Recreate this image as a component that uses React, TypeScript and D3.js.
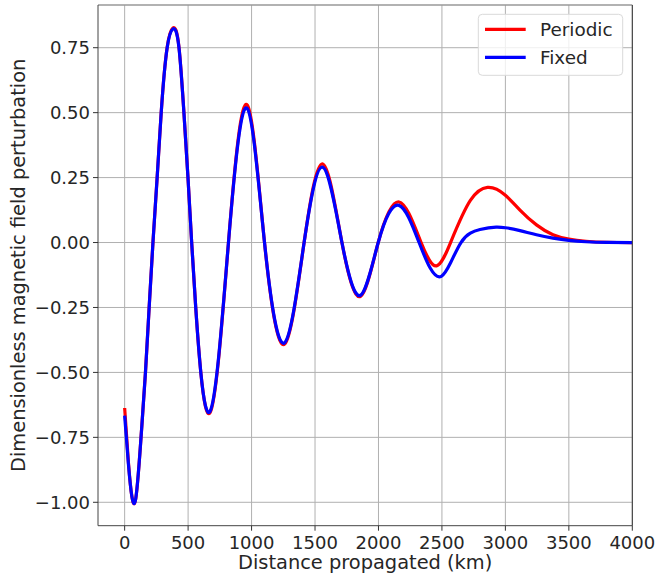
import React from "react";
import * as d3 from "d3";

const distanceFixed = [0, 30, 84, 129, 164, 193, 223, 256, 288, 335, 380, 428, 467, 499, 528, 560, 600, 673, 818, 968, 1102, 1262, 1414, 1558, 1712, 1859, 1998, 2162, 2320, 2495, 2568, 2650, 2724, 2800, 2927, 3000, 3115, 3245, 3375, 3500, 3635, 3800, 4000];
const fixedValues = [-0.666, -0.855, -0.995, -0.75, -0.5, -0.25, 0, 0.25, 0.5, 0.75, 0.822, 0.75, 0.5, 0.25, 0, -0.25, -0.5, -0.65, 0, 0.515, 0, -0.385, 0, 0.29, 0, -0.203, 0, 0.143, 0, -0.13, -0.078, 0, 0.036, 0.05, 0.059, 0.057, 0.046, 0.03, 0.017, 0.008, 0.003, 0.0005, 0];

const distancePeriodic = [0, 30, 84, 129, 164, 193, 223, 256, 288, 335, 380, 428, 467, 499, 528, 560, 600, 673, 818, 968, 1102, 1262, 1414, 1558, 1712, 1859, 1998, 2162, 2336, 2458, 2568, 2724, 2859, 3000, 3115, 3245, 3375, 3500, 3635, 3800, 4000];
const periodicValues = [-0.637, -0.848, -0.995, -0.75, -0.5, -0.25, 0, 0.25, 0.5, 0.752, 0.826, 0.752, 0.5, 0.25, 0, -0.25, -0.5, -0.655, 0, 0.528, 0, -0.39, 0, 0.303, 0, -0.207, 0, 0.156, 0, -0.09, 0, 0.162, 0.212, 0.182, 0.125, 0.068, 0.03, 0.013, 0.005, 0.001, 0];

const xTicks = [0, 500, 1000, 1500, 2000, 2500, 3000, 3500, 4000];
const yTicks = [-1.0, -0.75, -0.5, -0.25, 0, 0.25, 0.5, 0.75];
const seriesNames = ["Periodic", "Fixed"];
const seriesColors = ["#ff0000", "#0000ff"];

const W = 657;
const H = 574;
const L = 98, R = 632.3, T = 5, B = 525.7;
const FONT = "DejaVu Sans, sans-serif";

// natural cubic spline y(x) through pixel points, emitted as Bezier segments
function splinePath(pts: [number, number][]): string {
  const n = pts.length - 1;
  const h: number[] = [];
  for (let i = 0; i < n; i++) h.push(pts[i + 1][0] - pts[i][0]);
  const a: number[] = new Array(n + 1).fill(0);
  const b: number[] = new Array(n + 1).fill(1);
  const c: number[] = new Array(n + 1).fill(0);
  const r: number[] = new Array(n + 1).fill(0);
  for (let i = 1; i < n; i++) {
    a[i] = h[i - 1];
    b[i] = 2 * (h[i - 1] + h[i]);
    c[i] = h[i];
    r[i] = 6 * ((pts[i + 1][1] - pts[i][1]) / h[i] - (pts[i][1] - pts[i - 1][1]) / h[i - 1]);
  }
  const cp = new Array(n + 1).fill(0);
  const rp = new Array(n + 1).fill(0);
  cp[0] = c[0] / b[0];
  rp[0] = r[0] / b[0];
  for (let i = 1; i <= n; i++) {
    const m = b[i] - a[i] * cp[i - 1];
    cp[i] = c[i] / m;
    rp[i] = (r[i] - a[i] * rp[i - 1]) / m;
  }
  const M = new Array(n + 1).fill(0);
  M[n] = rp[n];
  for (let i = n - 1; i >= 0; i--) M[i] = rp[i] - cp[i] * M[i + 1];
  const slope = (i: number) => {
    if (i < n) return (pts[i + 1][1] - pts[i][1]) / h[i] - (h[i] * (2 * M[i] + M[i + 1])) / 6;
    return (pts[n][1] - pts[n - 1][1]) / h[n - 1] + (h[n - 1] * (M[n - 1] + 2 * M[n])) / 6;
  };
  const path = d3.path();
  path.moveTo(pts[0][0], pts[0][1]);
  for (let i = 0; i < n; i++) {
    const m0 = slope(i);
    const m1 = slope(i + 1);
    const hh = h[i];
    path.bezierCurveTo(
      pts[i][0] + hh / 3,
      pts[i][1] + (m0 * hh) / 3,
      pts[i + 1][0] - hh / 3,
      pts[i + 1][1] - (m1 * hh) / 3,
      pts[i + 1][0],
      pts[i + 1][1]
    );
  }
  return path.toString();
}

export default function App() {
  const x = d3.scaleLinear().domain([-210, 4000]).range([L, R]);
  const y = d3.scaleLinear().domain([-1.0901, 0.9144]).range([B, T]);
  const periodic: [number, number][] = distancePeriodic.map((d, i) => [x(d), y(periodicValues[i])]);
  const fixed: [number, number][] = distanceFixed.map((d, i) => [x(d), y(fixedValues[i])]);
  const fmtY = (v: number) => (v < 0 ? "\u2212" : "") + Math.abs(v).toFixed(2);

  return (
    <svg width={W} height={H} style={{ position: "absolute", left: 0, top: 0, background: "#fff" }} fontFamily={FONT}>
      <rect x={0} y={0} width={W} height={H} fill="#fff" />
      <defs>
        <clipPath id="plotclip">
          <rect x={L} y={T} width={R - L} height={B - T} />
        </clipPath>
      </defs>
      {xTicks.map((t) => (
        <line key={"gx" + t} x1={x(t)} x2={x(t)} y1={T} y2={B} stroke="#b0b0b0" strokeWidth={1} />
      ))}
      {yTicks.map((t) => (
        <line key={"gy" + t} x1={L} x2={R} y1={y(t)} y2={y(t)} stroke="#b0b0b0" strokeWidth={1} />
      ))}
      <g clipPath="url(#plotclip)">
        <path d={splinePath(periodic)} fill="none" stroke={seriesColors[0]} strokeWidth={3.2} />
        <path d={splinePath(fixed)} fill="none" stroke={seriesColors[1]} strokeWidth={3.2} />
      </g>
      <line x1={L} x2={R} y1={T} y2={T} stroke="#999" strokeWidth={1.5} />
      <line x1={R} x2={R} y1={T} y2={B} stroke="#333" strokeWidth={1} />
      <line x1={L} x2={L} y1={T} y2={B} stroke="#444" strokeWidth={1} />
      <line x1={L} x2={R} y1={B} y2={B} stroke="#444" strokeWidth={1} />
      {xTicks.map((t) => (
        <g key={"tx" + t}>
          <line x1={x(t)} x2={x(t)} y1={B} y2={B + 5} stroke="#333" strokeWidth={1} />
          <text x={x(t)} y={548.5} fontSize={18} textAnchor="middle" fill="#262626">
            {String(t)}
          </text>
        </g>
      ))}
      {yTicks.map((t) => (
        <g key={"ty" + t}>
          <line x1={L - 5} x2={L} y1={y(t)} y2={y(t)} stroke="#333" strokeWidth={1} />
          <text x={90} y={y(t) + 6.5} fontSize={18} textAnchor="end" fill="#262626">
            {fmtY(t)}
          </text>
        </g>
      ))}
      <text x={(L + R) / 2} y={569} fontSize={19.4} textAnchor="middle" fill="#262626">
        Distance propagated (km)
      </text>
      <text
        transform={`translate(25, ${(T + B) / 2}) rotate(-90)`}
        fontSize={19.4}
        textAnchor="middle"
        fill="#262626"
      >
        Dimensionless magnetic field perturbation
      </text>
      <rect x={478.3} y={14.3} width={144.4} height={61} rx={4} fill="#fff" fillOpacity={0.8} stroke="#d9d9d9" strokeWidth={1} />
      {seriesNames.map((n, i) => (
        <g key={n}>
          <line x1={485} x2={525.7} y1={29.3 + i * 28} y2={29.3 + i * 28} stroke={seriesColors[i]} strokeWidth={3.2} />
          <text x={540} y={36 + i * 28} fontSize={18.4} fill="#262626">
            {n}
          </text>
        </g>
      ))}
    </svg>
  );
}
